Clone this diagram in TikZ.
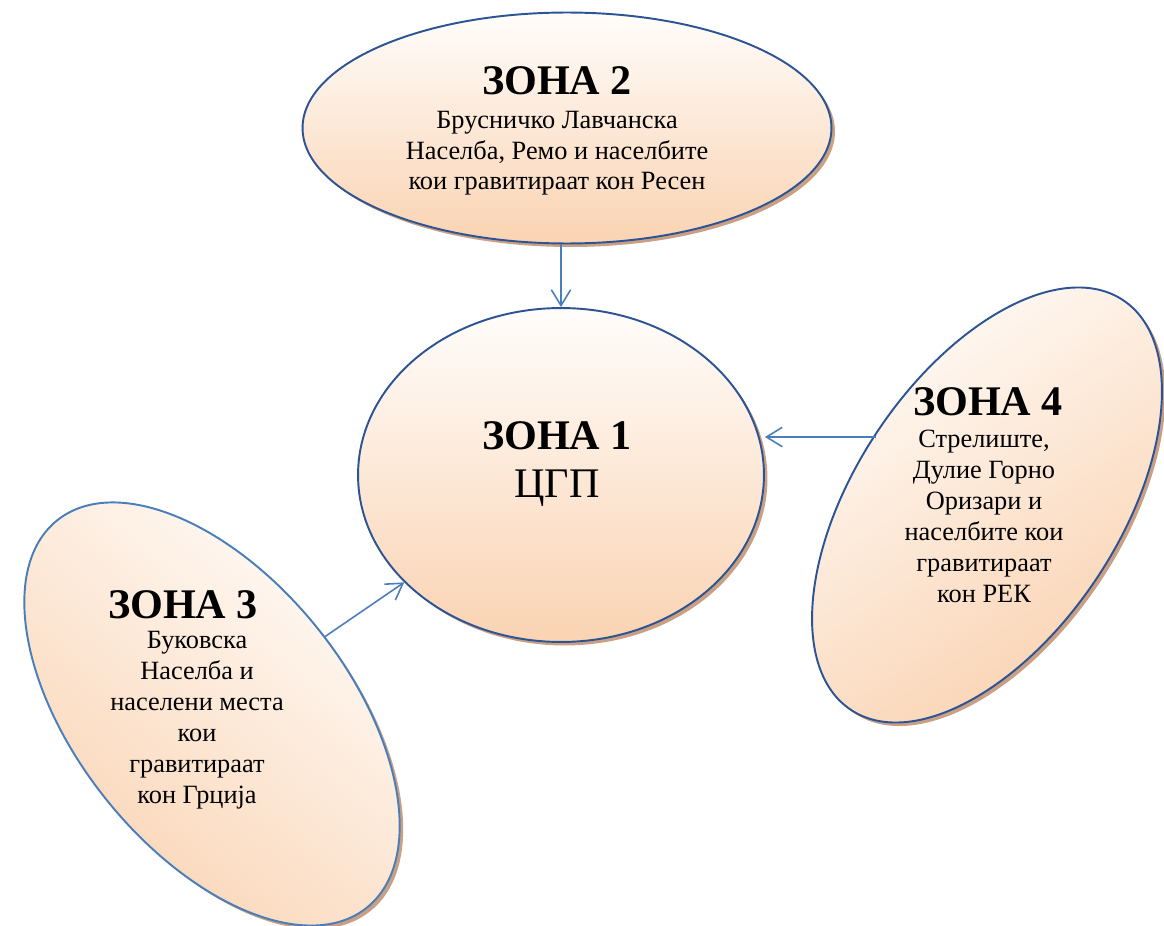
\documentclass[tikz,border=0pt]{standalone}
\usepackage{fontspec}
\setmainfont{Liberation Serif}
\usepackage{tikz}
\usetikzlibrary{shapes.geometric}
\usetikzlibrary{shadows}
\usetikzlibrary{arrows.meta}
\definecolor{zoneline}{HTML}{2C5494}
\definecolor{zonelight}{HTML}{4A7EBB}
\definecolor{peach}{HTML}{FAD3B2}
\definecolor{peachtop}{HTML}{FFFDFB}
\definecolor{zoneshadow}{HTML}{C9A083}
\tikzset{zone/.style={ellipse, draw=zoneline, line width=1.1pt, top color=peachtop, bottom color=peach,
    drop shadow={shadow xshift=0.07cm, shadow yshift=-0.07cm, fill=zoneshadow, opacity=1}}}
\tikzset{zhead/.style={font=\bfseries\fontsize{24}{28}\selectfont, inner sep=0pt, anchor=base}}
\tikzset{ztext/.style={font=\fontsize{15}{17.6}\selectfont, align=center, inner sep=0pt, anchor=base}}
\tikzset{link/.style={draw=zonelight, line width=0.9pt, -{Straight Barb[length=9pt, width=11pt]}}}
\begin{document}
\begin{tikzpicture}[x=0.02cm, y=-0.02cm]
		\useasboundingbox (0,0) rectangle (1164,926);
		\node[zone, minimum width=10.58cm, minimum height=4.62cm] (z2) at (567,128) {};
		\node[zone, minimum width=8.12cm, minimum height=6.68cm] (z1) at (561,475) {};
		\node[zone, minimum width=5.28cm, minimum height=9.84cm, rotate=-33.6, shading angle=33.6] (z4) at (987,505) {};
		\node[zone, draw=zonelight, minimum width=5.44cm, minimum height=9.92cm, rotate=38.6, shading angle=-38.6] (z3) at (212,714) {};
		\node[zhead] (h2) at (557,95) {ЗОНА 2};
		\node[ztext] (b2) at (557,190) {Брусничко Лавчанска\\Населба, Ремо и населбите\\кои гравитираат кон Ресен};
		\node[zhead] (h1) at (557,449) {ЗОНА 1};
		\node[zhead, font=\fontsize{24}{28}\selectfont] (b1) at (557,497) {ЦГП};
		\node[zhead] (h4) at (988,415) {ЗОНА 4};
		\node[ztext] (b4) at (984,602) {Стрелиште,\\Дулие Горно\\Оризари и\\населбите кои\\гравитираат\\кон РЕК};
		\node[zhead] (h3) at (183,618) {ЗОНА 3};
		\node[ztext] (b3) at (197,803) {Буковска\\Населба и\\населени места\\кои\\гравитираат\\кон Грција};
		\coordinate (a4) at (876,437);
		\draw[link] (z1.north |- z2.south) -- (z1.north);
		\draw[link] (a4) -- (a4 -| z1.east);
		\draw[link] (z3) -- (z1);
\end{tikzpicture}
\end{document}
